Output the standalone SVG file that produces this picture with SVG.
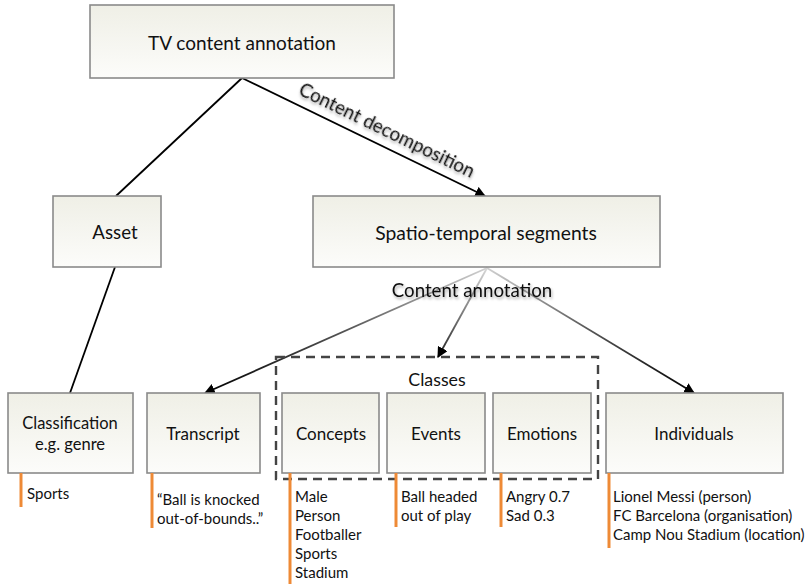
<svg xmlns="http://www.w3.org/2000/svg" width="806" height="584" viewBox="0 0 806 584">
  <defs>
    <linearGradient id="boxFill" x1="0" y1="0" x2="0" y2="1">
      <stop offset="0" stop-color="#efefe6"/>
      <stop offset="1" stop-color="#fcfcfa"/>
    </linearGradient>
    <linearGradient id="fadeL" gradientUnits="userSpaceOnUse" x1="487" y1="268" x2="205" y2="393">
      <stop offset="0" stop-color="#d0d0d0"/>
      <stop offset="0.5" stop-color="#555"/>
      <stop offset="1" stop-color="#000"/>
    </linearGradient>
    <linearGradient id="fadeM" gradientUnits="userSpaceOnUse" x1="487" y1="268" x2="438" y2="357">
      <stop offset="0" stop-color="#d8d8d8"/>
      <stop offset="1" stop-color="#222"/>
    </linearGradient>
    <linearGradient id="fadeR" gradientUnits="userSpaceOnUse" x1="487" y1="268" x2="694" y2="393">
      <stop offset="0" stop-color="#d0d0d0"/>
      <stop offset="0.5" stop-color="#555"/>
      <stop offset="1" stop-color="#000"/>
    </linearGradient>
    <marker id="arrow" viewBox="0 0 10 10" refX="9" refY="5" markerWidth="6" markerHeight="6" markerUnits="strokeWidth" orient="auto">
      <path d="M0,0 L10,5 L0,10 z" fill="#000"/>
    </marker>
    <filter id="glow" x="-10%" y="-30%" width="120%" height="160%">
      <feGaussianBlur in="SourceAlpha" stdDeviation="1.6" result="b"/>
      <feOffset dx="1" dy="1.5" in="b" result="o"/>
      <feComponentTransfer in="o" result="s"><feFuncA type="linear" slope="0.35"/></feComponentTransfer>
      <feMerge><feMergeNode in="s"/><feMergeNode in="SourceGraphic"/></feMerge>
    </filter>
  </defs>
  <style>
    .box { fill: url(#boxFill); stroke: #8a8a8a; stroke-width: 1.6; }
    .lbl { font-family: Lato, "Open Sans", "Liberation Sans", sans-serif; font-size: 17px; fill: #111; text-anchor: middle; }
    .note { font-family: Lato, "Open Sans", "Liberation Sans", sans-serif; font-size: 15px; fill: #111; }
    .bar { stroke: #ee8a36; stroke-width: 3; }
    .edge { fill: none; stroke-width: 1.8; }
    .edgeLbl { font-family: Lato, "Open Sans", "Liberation Sans", sans-serif; font-size: 18.7px; fill: #111; text-anchor: middle; }
  </style>

  <rect width="806" height="584" fill="#fff"/>

  <!-- connectors -->
  <g id="connectors">
    <line class="edge" stroke="#000" x1="242" y1="78" x2="116" y2="196"/>
    <line class="edge" stroke="#000" x1="242" y1="78" x2="485" y2="196" marker-end="url(#arrow)"/>
    <line class="edge" stroke="#000" x1="115" y1="267" x2="70" y2="393"/>
    <line class="edge" stroke="url(#fadeL)" x1="487" y1="268" x2="205" y2="393" marker-end="url(#arrow)"/>
    <line class="edge" stroke="url(#fadeM)" stroke-width="1.4" x1="487" y1="268" x2="438" y2="357" marker-end="url(#arrow)"/>
    <line class="edge" stroke="url(#fadeR)" x1="487" y1="268" x2="694" y2="393" marker-end="url(#arrow)"/>
    <text class="edgeLbl" filter="url(#glow)" transform="translate(384,136) rotate(25.9)">Content decomposition</text>
    <text class="edgeLbl" filter="url(#glow)" x="472" y="297">Content annotation</text>
  </g>

  <!-- dashed grouping of the class nodes -->
  <g id="classes">
    <rect x="276" y="357" width="322" height="122" fill="none" stroke="#444" stroke-width="2.4" stroke-dasharray="9 6"/>
    <text class="lbl" x="437" y="386" style="font-size:17.8px">Classes</text>
  </g>

  <g id="tv-content-annotation">
    <rect class="box" x="90" y="5" width="304" height="73"/>
    <text class="lbl" x="242" y="50" style="font-size:19px">TV content annotation</text>
  </g>

  <g id="asset">
    <rect class="box" x="53" y="196" width="108" height="71"/>
    <text class="lbl" x="115" y="239" style="font-size:18.7px">Asset</text>
  </g>

  <g id="segments">
    <rect class="box" x="313" y="196" width="347" height="71"/>
    <text class="lbl" x="486" y="240" style="font-size:19.3px">Spatio-temporal segments</text>
  </g>

  <g id="classification">
    <rect class="box" x="8" y="393" width="125" height="80"/>
    <text class="lbl" x="70" y="429" style="font-size:16.5px">Classification</text>
    <text class="lbl" x="70" y="450" style="font-size:16.5px">e.g. genre</text>
    <line class="bar" x1="21" y1="473" x2="21" y2="507"/>
    <text class="note" x="27" y="499">Sports</text>
  </g>

  <g id="transcript">
    <rect class="box" x="147" y="393" width="113" height="80"/>
    <text class="lbl" x="203" y="440">Transcript</text>
    <line class="bar" x1="152" y1="473" x2="152" y2="528"/>
    <text class="note" x="157" y="505">“Ball is knocked</text>
    <text class="note" x="157" y="524">out-of-bounds..”</text>
  </g>

  <g id="concepts">
    <rect class="box" x="282" y="393" width="97" height="80"/>
    <text class="lbl" x="331" y="440">Concepts</text>
    <line class="bar" x1="290" y1="473" x2="290" y2="584"/>
    <text class="note" x="295" y="502">Male</text>
    <text class="note" x="295" y="521">Person</text>
    <text class="note" x="295" y="540">Footballer</text>
    <text class="note" x="295" y="559">Sports</text>
    <text class="note" x="295" y="578">Stadium</text>
  </g>

  <g id="events">
    <rect class="box" x="387" y="393" width="98" height="80"/>
    <text class="lbl" x="436" y="440">Events</text>
    <line class="bar" x1="396" y1="473" x2="396" y2="527"/>
    <text class="note" x="401" y="502">Ball headed</text>
    <text class="note" x="401" y="521">out of play</text>
  </g>

  <g id="emotions">
    <rect class="box" x="493" y="393" width="98" height="80"/>
    <text class="lbl" x="542" y="440">Emotions</text>
    <line class="bar" x1="501" y1="473" x2="501" y2="527"/>
    <text class="note" x="506" y="502">Angry 0.7</text>
    <text class="note" x="506" y="521">Sad 0.3</text>
  </g>

  <g id="individuals">
    <rect class="box" x="606" y="393" width="177" height="80"/>
    <text class="lbl" x="694" y="440">Individuals</text>
    <line class="bar" x1="609" y1="473" x2="609" y2="548"/>
    <text class="note" x="613" y="502">Lionel Messi (person)</text>
    <text class="note" x="613" y="521">FC Barcelona (organisation)</text>
    <text class="note" x="613" y="540">Camp Nou Stadium (location)</text>
  </g>
</svg>
